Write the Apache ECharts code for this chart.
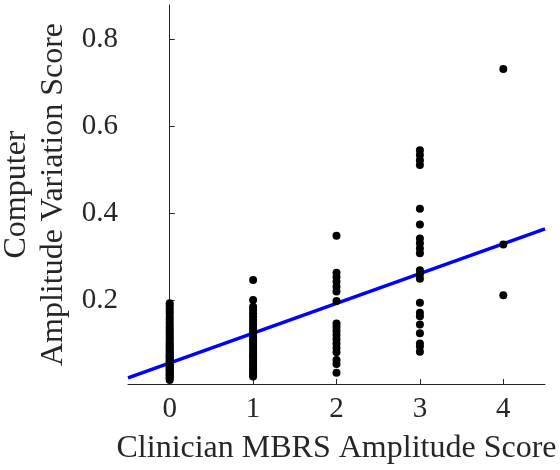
<!DOCTYPE html>
<html>
<head>
<meta charset="utf-8">
<script src="https://cdn.jsdelivr.net/npm/echarts@6/dist/echarts.min.js"></script>
<style>
html,body{margin:0;padding:0;background:#fff;}
#chart{width:560px;height:470px;}
</style>
</head>
<body>
<div id="chart"></div>
<script>
// Clinician score categories (x positions)
var scoreLevels = [0, 1, 2, 3, 4];
// Computer amplitude variation scores per clinician score
var score0 = [0.193, 0.188, 0.181, 0.175, 0.169, 0.162, 0.156, 0.149, 0.143, 0.137, 0.131, 0.126, 0.121, 0.116, 0.111, 0.106, 0.101, 0.097, 0.093, 0.089, 0.085, 0.081, 0.078, 0.074, 0.071, 0.068, 0.065, 0.062, 0.059, 0.056, 0.053, 0.05, 0.047, 0.044, 0.041, 0.038, 0.035, 0.032, 0.029, 0.026, 0.023, 0.02, 0.016];
var score1 = [0.246, 0.2, 0.185, 0.178, 0.17, 0.163, 0.155, 0.148, 0.141, 0.134, 0.128, 0.121, 0.115, 0.109, 0.103, 0.097, 0.091, 0.085, 0.079, 0.073, 0.068, 0.062, 0.056, 0.05, 0.044, 0.039, 0.034, 0.029, 0.024];
var score2 = [0.348, 0.263, 0.253, 0.242, 0.231, 0.22, 0.198, 0.146, 0.138, 0.129, 0.12, 0.11, 0.1, 0.09, 0.08, 0.062, 0.053, 0.033];
var score3 = [0.545, 0.534, 0.522, 0.511, 0.41, 0.374, 0.342, 0.331, 0.319, 0.308, 0.269, 0.259, 0.249, 0.194, 0.171, 0.163, 0.144, 0.124, 0.1, 0.093, 0.081];
var score4 = [0.732, 0.328, 0.211];
// Regression line endpoints
var fitX = [-0.5, 4.5];
var fitY = [0.021, 0.364];
// Tick values
var xTicks = [0, 1, 2, 3, 4];
var yTicks = [0.2, 0.4, 0.6, 0.8];

var groups = [score0, score1, score2, score3, score4];
var points = [];
groups.forEach(function (vals, i) {
  vals.forEach(function (v) { points.push([scoreLevels[i], v]); });
});
var fitData = fitX.map(function (x, i) { return [x, fitY[i]]; });

var font = "'Liberation Serif', 'Times New Roman', serif";
var axisColor = '#262626';

function isTick(list, v) {
  for (var i = 0; i < list.length; i++) { if (Math.abs(list[i] - v) < 1e-6) return true; }
  return false;
}
var tickRich = {t: {fontFamily: font, fontSize: 29, color: axisColor}};

var chart = echarts.init(document.getElementById('chart'), null, {renderer: 'canvas'});
chart.setOption({
  animation: false,
  backgroundColor: '#fff',
  textStyle: {fontFamily: font},
  grid: {left: 128, right: 15, top: 5, bottom: 86, containLabel: false, outerBoundsMode: 'none'},
  xAxis: {
    type: 'value',
    min: -0.5, max: 4.5, interval: 0.5,
    name: 'Clinician MBRS Amplitude Score',
    nameLocation: 'middle',
    nameGap: 49,
    nameMoveOverlap: false,
    nameTextStyle: {fontFamily: font, fontSize: 32, color: axisColor},
    axisLine: {show: true, lineStyle: {color: axisColor, width: 1}},
    axisTick: {show: true, inside: true, length: 5, lineStyle: {color: axisColor}, customValues: xTicks},
    axisLabel: {fontFamily: font, fontSize: 29, color: axisColor, margin: 11,
      showMinLabel: false, showMaxLabel: false, rich: tickRich,
      formatter: function (v) { return isTick(xTicks, v) ? '{t|' + Math.round(v) + '}' : ''; }},
    splitLine: {show: false}
  },
  yAxis: {
    type: 'value',
    min: 0.007, max: 0.879,
    name: 'Computer\nAmplitude Variation Score',
    nameLocation: 'middle',
    nameGap: 56,
    nameMoveOverlap: false,
    nameRotate: 90,
    nameTextStyle: {fontFamily: font, fontSize: 32, color: axisColor, lineHeight: 37},
    axisLine: {show: true, lineStyle: {color: axisColor, width: 1}},
    axisTick: {show: true, inside: true, length: 5, lineStyle: {color: axisColor}, customValues: yTicks},
    axisLabel: {fontFamily: font, fontSize: 29, color: axisColor, margin: 10,
      showMinLabel: false, showMaxLabel: false, rich: tickRich,
      formatter: function (v) { return isTick(yTicks, v) ? '{t|' + (Math.round(v * 10) / 10).toFixed(1) + '}' : ''; }},
    splitLine: {show: false}
  },
  series: [
    {
      type: 'line',
      data: fitData,
      showSymbol: false,
      symbol: 'none',
      lineStyle: {color: '#0000ff', width: 3.5},
      z: 1,
      silent: true
    },
    {
      type: 'scatter',
      data: points,
      symbol: 'circle',
      symbolSize: 8,
      itemStyle: {color: '#000', opacity: 1},
      z: 2
    }
  ]
});
</script>
</body>
</html>
